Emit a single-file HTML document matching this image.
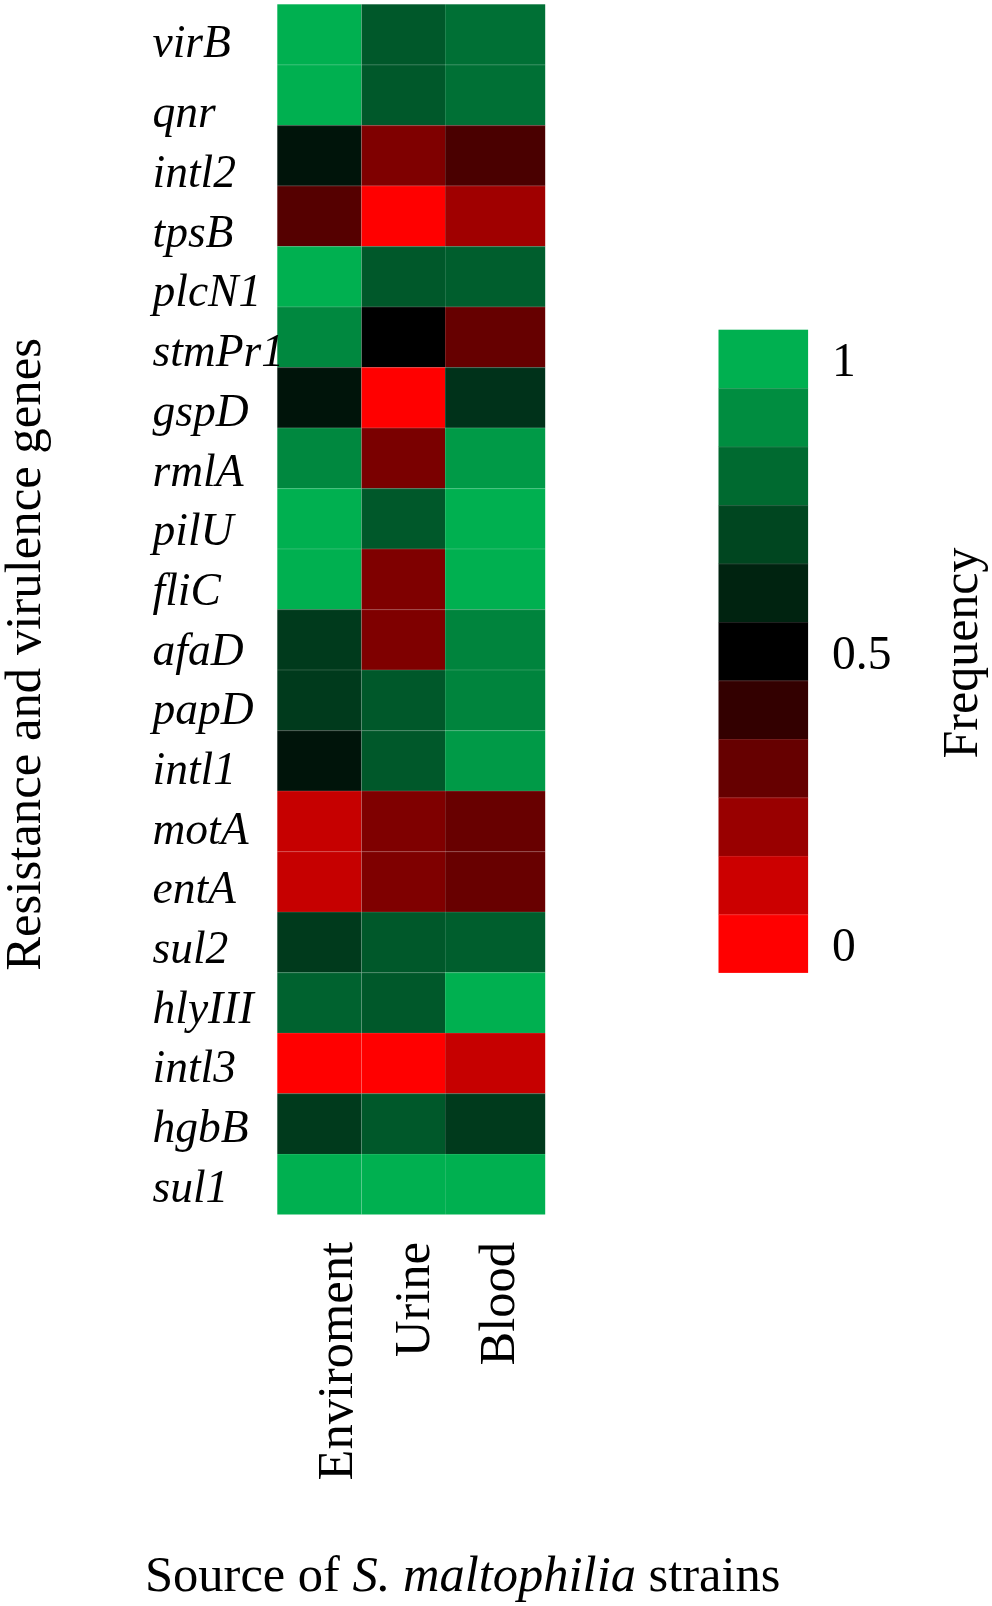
<!DOCTYPE html>
<html><head><meta charset="utf-8"><style>
html,body{margin:0;padding:0;background:#fff;}
body{width:992px;height:1606px;overflow:hidden;}
svg{display:block;will-change:transform;}
text{font-family:"Liberation Serif",serif;fill:#000;}
.g{font-style:italic;font-size:45.5px;}
.t{font-size:50.5px;}
.l{font-size:47.5px;}
</style></head><body>
<svg width="992" height="1606" viewBox="0 0 992 1606">
<rect x="0" y="0" width="992" height="1606" fill="#fff"/>

<rect x="277.3" y="4.30" width="84.20" height="60.51" fill="#00B050"/>
<rect x="361.5" y="4.30" width="83.50" height="60.51" fill="#00582A"/>
<rect x="445" y="4.30" width="100.20" height="60.51" fill="#007035"/>
<rect x="277.3" y="64.81" width="84.20" height="60.51" fill="#00B050"/>
<rect x="361.5" y="64.81" width="83.50" height="60.51" fill="#00582A"/>
<rect x="445" y="64.81" width="100.20" height="60.51" fill="#007035"/>
<rect x="277.3" y="125.32" width="84.20" height="60.51" fill="#00140A"/>
<rect x="361.5" y="125.32" width="83.50" height="60.51" fill="#7F0000"/>
<rect x="445" y="125.32" width="100.20" height="60.51" fill="#4A0000"/>
<rect x="277.3" y="185.83" width="84.20" height="60.51" fill="#550000"/>
<rect x="361.5" y="185.83" width="83.50" height="60.51" fill="#FF0000"/>
<rect x="445" y="185.83" width="100.20" height="60.51" fill="#A00000"/>
<rect x="277.3" y="246.34" width="84.20" height="60.51" fill="#00B050"/>
<rect x="361.5" y="246.34" width="83.50" height="60.51" fill="#00582A"/>
<rect x="445" y="246.34" width="100.20" height="60.51" fill="#005E2D"/>
<rect x="277.3" y="306.85" width="84.20" height="60.51" fill="#00883F"/>
<rect x="361.5" y="306.85" width="83.50" height="60.51" fill="#000000"/>
<rect x="445" y="306.85" width="100.20" height="60.51" fill="#660000"/>
<rect x="277.3" y="367.36" width="84.20" height="60.51" fill="#00140A"/>
<rect x="361.5" y="367.36" width="83.50" height="60.51" fill="#FF0000"/>
<rect x="445" y="367.36" width="100.20" height="60.51" fill="#00321A"/>
<rect x="277.3" y="427.87" width="84.20" height="60.51" fill="#00883F"/>
<rect x="361.5" y="427.87" width="83.50" height="60.51" fill="#7A0000"/>
<rect x="445" y="427.87" width="100.20" height="60.51" fill="#009A47"/>
<rect x="277.3" y="488.38" width="84.20" height="60.51" fill="#00B050"/>
<rect x="361.5" y="488.38" width="83.50" height="60.51" fill="#00582A"/>
<rect x="445" y="488.38" width="100.20" height="60.51" fill="#00B050"/>
<rect x="277.3" y="548.89" width="84.20" height="60.51" fill="#00B050"/>
<rect x="361.5" y="548.89" width="83.50" height="60.51" fill="#7F0000"/>
<rect x="445" y="548.89" width="100.20" height="60.51" fill="#00B050"/>
<rect x="277.3" y="609.40" width="84.20" height="60.51" fill="#003A1C"/>
<rect x="361.5" y="609.40" width="83.50" height="60.51" fill="#7F0000"/>
<rect x="445" y="609.40" width="100.20" height="60.51" fill="#00843D"/>
<rect x="277.3" y="669.91" width="84.20" height="60.51" fill="#003A1C"/>
<rect x="361.5" y="669.91" width="83.50" height="60.51" fill="#00582A"/>
<rect x="445" y="669.91" width="100.20" height="60.51" fill="#00843D"/>
<rect x="277.3" y="730.42" width="84.20" height="60.51" fill="#00140A"/>
<rect x="361.5" y="730.42" width="83.50" height="60.51" fill="#00582A"/>
<rect x="445" y="730.42" width="100.20" height="60.51" fill="#009A47"/>
<rect x="277.3" y="790.93" width="84.20" height="60.51" fill="#C60000"/>
<rect x="361.5" y="790.93" width="83.50" height="60.51" fill="#7F0000"/>
<rect x="445" y="790.93" width="100.20" height="60.51" fill="#680000"/>
<rect x="277.3" y="851.44" width="84.20" height="60.51" fill="#C60000"/>
<rect x="361.5" y="851.44" width="83.50" height="60.51" fill="#7F0000"/>
<rect x="445" y="851.44" width="100.20" height="60.51" fill="#680000"/>
<rect x="277.3" y="911.95" width="84.20" height="60.51" fill="#003A1C"/>
<rect x="361.5" y="911.95" width="83.50" height="60.51" fill="#00582A"/>
<rect x="445" y="911.95" width="100.20" height="60.51" fill="#005E2D"/>
<rect x="277.3" y="972.46" width="84.20" height="60.51" fill="#00622F"/>
<rect x="361.5" y="972.46" width="83.50" height="60.51" fill="#00582A"/>
<rect x="445" y="972.46" width="100.20" height="60.51" fill="#00B050"/>
<rect x="277.3" y="1032.97" width="84.20" height="60.51" fill="#FF0000"/>
<rect x="361.5" y="1032.97" width="83.50" height="60.51" fill="#FF0000"/>
<rect x="445" y="1032.97" width="100.20" height="60.51" fill="#C60000"/>
<rect x="277.3" y="1093.48" width="84.20" height="60.51" fill="#003A1C"/>
<rect x="361.5" y="1093.48" width="83.50" height="60.51" fill="#00582A"/>
<rect x="445" y="1093.48" width="100.20" height="60.51" fill="#003A1C"/>
<rect x="277.3" y="1153.99" width="84.20" height="60.51" fill="#00B050"/>
<rect x="361.5" y="1153.99" width="83.50" height="60.51" fill="#00B050"/>
<rect x="445" y="1153.99" width="100.20" height="60.51" fill="#00B050"/>
<rect x="277.3" y="64.71" width="267.90" height="1" fill="rgba(255,255,255,0.1)"/>
<rect x="277.3" y="125.22" width="267.90" height="1" fill="rgba(255,255,255,0.1)"/>
<rect x="277.3" y="185.73" width="267.90" height="1" fill="rgba(255,255,255,0.1)"/>
<rect x="277.3" y="246.24" width="267.90" height="1" fill="rgba(255,255,255,0.1)"/>
<rect x="277.3" y="306.75" width="267.90" height="1" fill="rgba(255,255,255,0.1)"/>
<rect x="277.3" y="367.26" width="267.90" height="1" fill="rgba(255,255,255,0.1)"/>
<rect x="277.3" y="427.77" width="267.90" height="1" fill="rgba(255,255,255,0.1)"/>
<rect x="277.3" y="488.28" width="267.90" height="1" fill="rgba(255,255,255,0.1)"/>
<rect x="277.3" y="548.79" width="267.90" height="1" fill="rgba(255,255,255,0.1)"/>
<rect x="277.3" y="609.3" width="267.90" height="1" fill="rgba(255,255,255,0.1)"/>
<rect x="277.3" y="669.81" width="267.90" height="1" fill="rgba(255,255,255,0.1)"/>
<rect x="277.3" y="730.32" width="267.90" height="1" fill="rgba(255,255,255,0.1)"/>
<rect x="277.3" y="790.83" width="267.90" height="1" fill="rgba(255,255,255,0.1)"/>
<rect x="277.3" y="851.34" width="267.90" height="1" fill="rgba(255,255,255,0.1)"/>
<rect x="277.3" y="911.85" width="267.90" height="1" fill="rgba(255,255,255,0.1)"/>
<rect x="277.3" y="972.36" width="267.90" height="1" fill="rgba(255,255,255,0.1)"/>
<rect x="277.3" y="1032.87" width="267.90" height="1" fill="rgba(255,255,255,0.1)"/>
<rect x="277.3" y="1093.38" width="267.90" height="1" fill="rgba(255,255,255,0.1)"/>
<rect x="277.3" y="1153.89" width="267.90" height="1" fill="rgba(255,255,255,0.1)"/>
<rect x="361" y="4.3" width="1" height="1210.2" fill="rgba(255,255,255,0.13)"/>
<rect x="445" y="4.3" width="1" height="1210.2" fill="rgba(255,255,255,0.13)"/>
<text class="g" x="152.5" y="57.0">virB</text>
<text class="g" x="152.5" y="127.4">qnr</text>
<text class="g" x="152.5" y="187.1">intl2</text>
<text class="g" x="152.5" y="246.8">tpsB</text>
<text class="g" x="152.5" y="306.4">plcN1</text>
<text class="g" x="152.5" y="366.1">stmPr1</text>
<text class="g" x="152.5" y="425.8">gspD</text>
<text class="g" x="152.5" y="485.5">rmlA</text>
<text class="g" x="152.5" y="545.2">pilU</text>
<text class="g" x="152.5" y="604.8">fliC</text>
<text class="g" x="152.5" y="664.5">afaD</text>
<text class="g" x="152.5" y="724.2">papD</text>
<text class="g" x="152.5" y="783.9">intl1</text>
<text class="g" x="152.5" y="843.6">motA</text>
<text class="g" x="152.5" y="903.2">entA</text>
<text class="g" x="152.5" y="962.9">sul2</text>
<text class="g" x="152.5" y="1022.6">hlyIII</text>
<text class="g" x="152.5" y="1082.3">intl3</text>
<text class="g" x="152.5" y="1142.0">hgbB</text>
<text class="g" x="152.5" y="1201.6">sul1</text>
<text class="t" style="font-size:50.75px" transform="translate(40,969.3) rotate(-90)" x="-1.5" y="0">Resistance and virulence genes</text>
<text class="t" text-anchor="end" transform="translate(352,1242) rotate(-90)" x="0" y="0">Enviroment</text>
<text class="t" text-anchor="end" transform="translate(429.2,1242) rotate(-90)" x="0" y="0">Urine</text>
<text class="t" text-anchor="end" transform="translate(514.4,1242) rotate(-90)" x="0" y="0">Blood</text>
<rect x="718.5" y="329.70" width="89.6" height="58.77" fill="#00B050"/>
<rect x="718.5" y="388.17" width="89.6" height="58.77" fill="#008D40"/>
<rect x="718.5" y="446.65" width="89.6" height="58.77" fill="#006A30"/>
<rect x="718.5" y="505.12" width="89.6" height="58.77" fill="#004620"/>
<rect x="718.5" y="563.59" width="89.6" height="58.77" fill="#002310"/>
<rect x="718.5" y="622.06" width="89.6" height="58.77" fill="#000000"/>
<rect x="718.5" y="680.54" width="89.6" height="58.77" fill="#330000"/>
<rect x="718.5" y="739.01" width="89.6" height="58.77" fill="#660000"/>
<rect x="718.5" y="797.48" width="89.6" height="58.77" fill="#990000"/>
<rect x="718.5" y="855.95" width="89.6" height="58.77" fill="#CC0000"/>
<rect x="718.5" y="914.43" width="89.6" height="58.47" fill="#FF0000"/>
<rect x="718.5" y="388.17" width="89.6" height="1" fill="rgba(255,255,255,0.1)"/>
<rect x="718.5" y="446.65" width="89.6" height="1" fill="rgba(255,255,255,0.1)"/>
<rect x="718.5" y="505.12" width="89.6" height="1" fill="rgba(255,255,255,0.1)"/>
<rect x="718.5" y="563.59" width="89.6" height="1" fill="rgba(255,255,255,0.1)"/>
<rect x="718.5" y="622.06" width="89.6" height="1" fill="rgba(255,255,255,0.1)"/>
<rect x="718.5" y="680.54" width="89.6" height="1" fill="rgba(255,255,255,0.1)"/>
<rect x="718.5" y="739.01" width="89.6" height="1" fill="rgba(255,255,255,0.1)"/>
<rect x="718.5" y="797.48" width="89.6" height="1" fill="rgba(255,255,255,0.1)"/>
<rect x="718.5" y="855.95" width="89.6" height="1" fill="rgba(255,255,255,0.1)"/>
<rect x="718.5" y="914.43" width="89.6" height="1" fill="rgba(255,255,255,0.1)"/>
<text class="l" x="832" y="376">1</text>
<text class="l" x="832" y="668.6">0.5</text>
<text class="l" x="832" y="960.7">0</text>
<text class="t" style="font-size:50px" transform="translate(976.8,757) rotate(-90)" x="-1.5" y="0">Frequency</text>
<text class="t" x="145" y="1591">Source of <tspan font-style="italic">S. maltophilia</tspan> strains</text>
</svg>
</body></html>
